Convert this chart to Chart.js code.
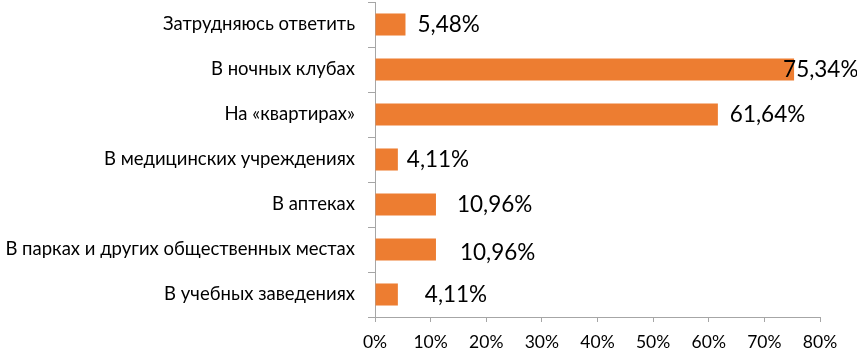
<!DOCTYPE html>
<html>
<head>
<meta charset="utf-8">
<script src="https://cdn.jsdelivr.net/npm/chart.js@4"></script>
<style>
  body { margin: 0; background: #fff; }
</style>
</head>
<body>
<canvas id="chart" width="857" height="350"></canvas>
<script>
const categories = [
    'Затрудняюсь ответить',
    'В ночных клубах',
    'На «квартирах»',
    'В медицинских учреждениях',
    'В аптеках',
    'В парках и других общественных местах',
    'В учебных заведениях'
];
const values = [5.48, 75.34, 61.64, 4.11, 10.96, 10.96, 4.11];
const valueLabels = ['5,48%', '75,34%', '61,64%', '4,11%', '10,96%', '10,96%', '4,11%'];

// the original has hand-moved labels, so each one gets its own nudge
const labelNudge = [[12, 0], [-11, 0], [12, 0], [9, 0], [21, 0], [24, 3], [27, 0]];

const barLabels = {
    id: 'barLabels',
    afterDatasetsDraw(chart) {
        const ctx = chart.ctx;
        const meta = chart.getDatasetMeta(0);
        ctx.save();
        ctx.font = '22.5px Lato';
        ctx.fillStyle = '#000';
        ctx.textBaseline = 'middle';
        ctx.textAlign = 'left';
        meta.data.forEach((bar, i) => {
            ctx.fillText(valueLabels[i], bar.x + labelNudge[i][0], bar.y + labelNudge[i][1]);
        });
        ctx.restore();
    }
};

new Chart(document.getElementById('chart'), {
    type: 'bar',
    data: {
        labels: categories,
        datasets: [{
            data: values,
            backgroundColor: '#ED7D31',
            categoryPercentage: 1,
            barPercentage: 0.49
        }]
    },
    options: {
        indexAxis: 'y',
        responsive: false,
        animation: false,
        layout: { padding: { top: 2, right: 37, left: 0, bottom: 0 } },
        plugins: { legend: { display: false }, tooltip: { enabled: false } },
        scales: {
            x: {
                min: 0,
                max: 80,
                ticks: {
                    stepSize: 10,
                    color: '#000',
                    font: { family: 'Lato', size: 17.5 },
                    padding: 10,
                    callback: v => v + '%'
                },
                grid: { drawOnChartArea: false, tickLength: 5, color: '#a6a6a6' },
                border: { color: '#a6a6a6' },
                afterFit(scale) { scale.height = 33; }
            },
            y: {
                ticks: {
                    color: '#000',
                    font: { family: 'Lato', size: 18.5 },
                    padding: 13
                },
                grid: { drawOnChartArea: false, tickLength: 7, color: '#a6a6a6' },
                border: { color: '#a6a6a6' },
                afterFit(scale) {
                    scale.width = 375;
                    // tick padding would otherwise push the plot down
                    scale.paddingTop = 0;
                    scale.paddingBottom = 0;
                }
            }
        }
    },
    plugins: [barLabels]
});
</script>
</body>
</html>
